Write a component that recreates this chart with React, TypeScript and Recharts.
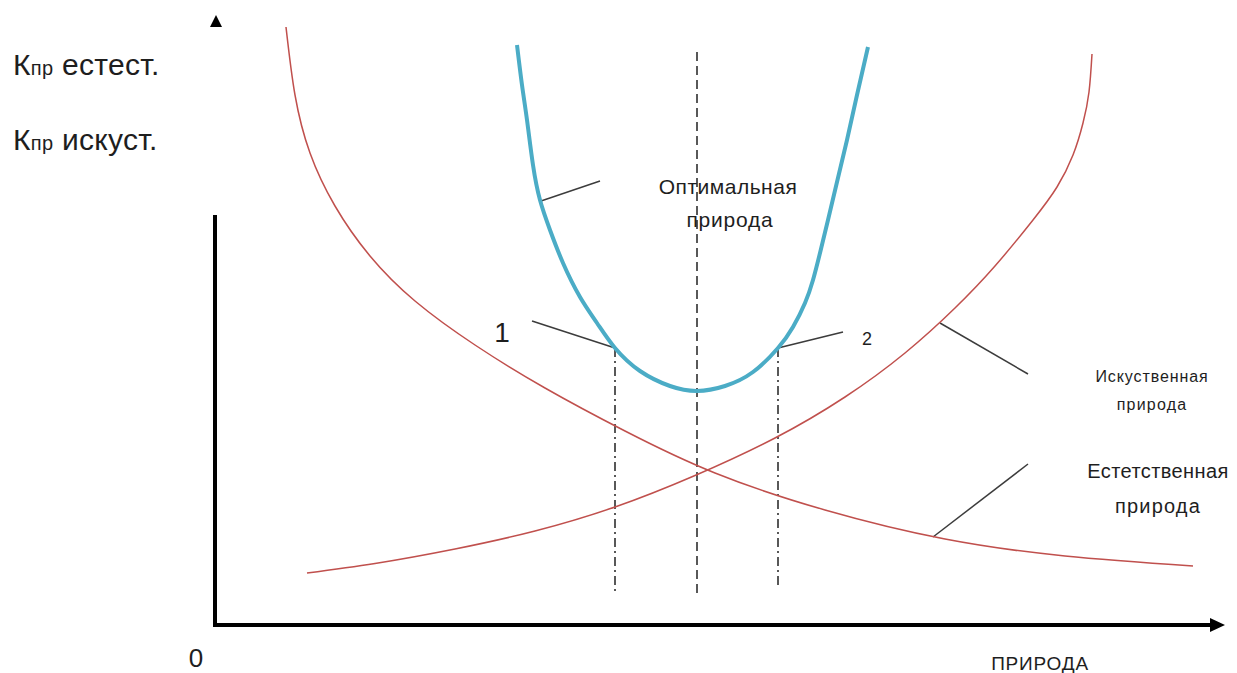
import { ComposedChart, Line, XAxis, YAxis, ReferenceLine, ReferenceDot } from "recharts";

// units: 10px per unit, origin at the corner of the drawn axes
const naturalCurve = [
  { x: 7.1, y: 59.8 },
  { x: 8.0, y: 53.0 },
  { x: 9.5, y: 47.2 },
  { x: 12.0, y: 41.9 },
  { x: 15.5, y: 36.9 },
  { x: 20.0, y: 32.4 },
  { x: 26.0, y: 28.0 },
  { x: 33.0, y: 23.7 },
  { x: 41.0, y: 19.4 },
  { x: 50.0, y: 15.2 },
  { x: 61.0, y: 11.5 },
  { x: 73.0, y: 8.6 },
  { x: 85.0, y: 6.9 },
  { x: 97.8, y: 5.9 },
];

const artificialCurve = [
  { x: 9.2, y: 5.2 },
  { x: 16.0, y: 6.15 },
  { x: 24.0, y: 7.6 },
  { x: 32.0, y: 9.4 },
  { x: 40.0, y: 11.8 },
  { x: 48.0, y: 14.95 },
  { x: 56.0, y: 18.7 },
  { x: 63.0, y: 22.8 },
  { x: 69.0, y: 27.2 },
  { x: 74.0, y: 31.7 },
  { x: 78.0, y: 35.9 },
  { x: 81.8, y: 40.5 },
  { x: 84.2, y: 43.8 },
  { x: 85.8, y: 47.0 },
  { x: 86.8, y: 50.2 },
  { x: 87.4, y: 53.3 },
  { x: 87.7, y: 57.1 },
];

const optimalCurve = [
  { x: 30.2, y: 58.0 },
  { x: 30.7, y: 54.0 },
  { x: 31.2, y: 50.5 },
  { x: 31.8, y: 46.0 },
  { x: 32.5, y: 42.5 },
  { x: 33.5, y: 39.5 },
  { x: 34.8, y: 36.2 },
  { x: 36.5, y: 32.8 },
  { x: 38.2, y: 30.2 },
  { x: 40.0, y: 27.7 },
  { x: 42.5, y: 25.4 },
  { x: 45.5, y: 23.9 },
  { x: 48.2, y: 23.4 },
  { x: 51.0, y: 23.9 },
  { x: 53.8, y: 25.3 },
  { x: 56.3, y: 27.7 },
  { x: 57.8, y: 29.8 },
  { x: 59.0, y: 32.2 },
  { x: 59.8, y: 34.5 },
  { x: 60.5, y: 37.2 },
  { x: 61.3, y: 40.5 },
  { x: 62.2, y: 44.3 },
  { x: 63.2, y: 48.5 },
  { x: 64.2, y: 53.0 },
  { x: 65.3, y: 57.8 },
];

// points where the guide lines meet the optimal curve
const point1 = { x: 40.0, y: 27.7 };
const point2 = { x: 56.3, y: 27.7 };
const optimum = { x: 48.2, y: 23.4 };

const FONT = "'Liberation Sans', Arial, sans-serif";
const RED = "#c0504d";
const BLUE = "#4bacc6";
const INK = "#1e1e1e";

const txt = (
  key: string,
  x: number,
  y: number,
  content: any,
  size: number,
  anchor: string = "middle",
  spacing = 0
) => (
  <ReferenceDot
    key={key}
    x={x}
    y={y}
    r={1}
    ifOverflow="visible"
    shape={(p: any) => (
      <text
        x={p.cx}
        y={p.cy}
        fontSize={size}
        fontFamily={FONT}
        textAnchor={anchor}
        letterSpacing={spacing}
        fill={INK}
      >
        {content}
      </text>
    )}
  />
);

const seg = (key: string, a: { x: number; y: number }, b: { x: number; y: number }, props: any) => (
  <ReferenceLine key={key} segment={[a, b]} ifOverflow="visible" {...props} />
);

export default function App() {
  const leader = { stroke: "#3c3c3c", strokeWidth: 1.5 };
  const curve = { type: "natural" as const, dot: false, activeDot: false, isAnimationActive: false };
  return (
    <div style={{ position: "absolute", left: 0, top: 0 }}>
      <ComposedChart width={1237} height={673} margin={{ top: 0, right: 0, bottom: 0, left: 0 }}>
        <XAxis type="number" dataKey="x" domain={[-21.5, 102.2]} hide allowDataOverflow />
        <YAxis type="number" dataKey="y" domain={[-4.8, 62.5]} hide allowDataOverflow />

        {/* axes */}
        {seg("yaxis", { x: 0, y: 0 }, { x: 0, y: 41 }, { stroke: "#000", strokeWidth: 4 })}
        {seg("xaxis", { x: -0.2, y: 0 }, { x: 99.8, y: 0 }, { stroke: "#000", strokeWidth: 4 })}
        <ReferenceDot
          x={0.1}
          y={60.4}
          r={1}
          ifOverflow="visible"
          shape={(p: any) => (
            <polygon points={`${p.cx},${p.cy - 6} ${p.cx - 6},${p.cy + 6} ${p.cx + 6},${p.cy + 6}`} fill="#000" />
          )}
        />
        <ReferenceDot
          x={100.3}
          y={0}
          r={1}
          ifOverflow="visible"
          shape={(p: any) => (
            <polygon points={`${p.cx + 7},${p.cy} ${p.cx - 8},${p.cy - 7} ${p.cx - 8},${p.cy + 7}`} fill="#000" />
          )}
        />

        {/* guide lines */}
        {seg("v1", point1, { x: point1.x, y: 3.2 }, { stroke: "#222", strokeWidth: 1.5, strokeDasharray: "9 4 2 4" })}
        {seg("v2", { x: optimum.x, y: 57.3 }, { x: optimum.x, y: 3.2 }, { stroke: "#222", strokeWidth: 1.5, strokeDasharray: "9 5" })}
        {seg("v3", point2, { x: point2.x, y: 3.7 }, { stroke: "#222", strokeWidth: 1.5, strokeDasharray: "9 4 2 4" })}

        {/* leader lines */}
        {seg("l-opt", { x: 32.6, y: 42.4 }, { x: 38.5, y: 44.4 }, leader)}
        {seg("l-1", { x: 31.7, y: 30.4 }, point1, leader)}
        {seg("l-2", point2, { x: 62.8, y: 29.3 }, leader)}
        {seg("l-art", { x: 72.5, y: 30.2 }, { x: 81.3, y: 25.1 }, leader)}
        {seg("l-nat", { x: 71.8, y: 8.8 }, { x: 81.3, y: 16.1 }, leader)}

        <Line data={naturalCurve} dataKey="y" stroke={RED} strokeWidth={1.5} {...curve} />
        <Line data={artificialCurve} dataKey="y" stroke={RED} strokeWidth={1.5} {...curve} />
        <Line data={optimalCurve} dataKey="y" stroke={BLUE} strokeWidth={4} {...curve} />

        {txt("k1", -20.2, 55, [<tspan key="a">К</tspan>, <tspan key="b" fontSize={20}>пр</tspan>, <tspan key="c"> естест.</tspan>], 30, "start", 0.3)}
        {txt("k2", -20.2, 47.5, [<tspan key="a">К</tspan>, <tspan key="b" fontSize={20}>пр</tspan>, <tspan key="c"> искуст.</tspan>], 30, "start", 0.3)}
        {txt("opt1", 51.3, 43.1, "Оптимальная", 21, "middle", 0.5)}
        {txt("opt2", 51.5, 39.8, "природа", 21, "middle", 0.8)}
        {txt("n1", 28.7, 28.3, "1", 28)}
        {txt("n2", 65.2, 28, "2", 18)}
        {txt("art1", 93.7, 24.3, "Искуственная", 16, "middle", 0.9)}
        {txt("art2", 93.7, 21.5, "природа", 16, "middle", 1.2)}
        {txt("nat1", 94.3, 14.7, "Естетственная", 20, "middle", 0.4)}
        {txt("nat2", 94.3, 11.2, "природа", 20, "middle", 1.2)}
        {txt("xlab", 82.5, -4.5, "ПРИРОДА", 19, "middle", 0.8)}
        {txt("zero", -1.9, -4.2, "0", 26)}
      </ComposedChart>
    </div>
  );
}
